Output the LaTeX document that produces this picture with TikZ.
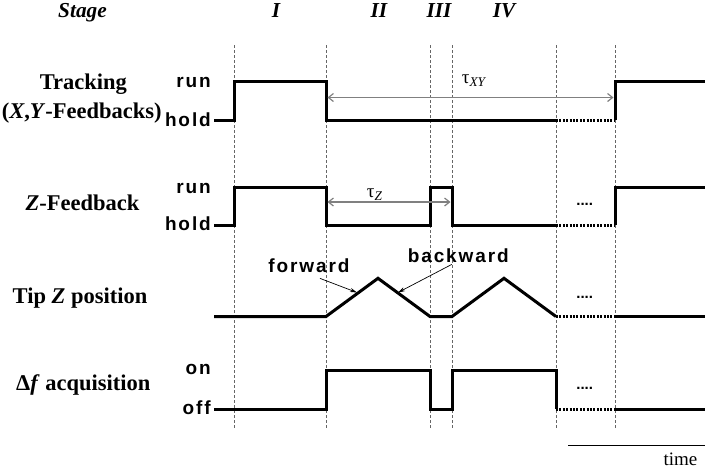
\documentclass[tikz,border=0pt]{standalone}
\usepackage{fontspec}
\setmainfont{Liberation Serif}
\newfontfamily\sigfont[LetterSpace=10]{Liberation Sans}
\newfontfamily\dotfont{Liberation Sans}
\usetikzlibrary{arrows.meta}

\tikzset{
    sig/.style={line width=3pt},
    gap/.style={line width=3pt, dash pattern=on 2pt off 1.4pt},
    grid/.style={black!60, line width=0.8pt, dash pattern=on 3pt off 2pt},
    tau/.style={gray, line width=1.2pt,
        {Straight Barb[length=5pt,width=8pt]}-{Straight Barb[length=5pt,width=8pt]}},
    note/.style={-{Stealth[length=7pt,width=4pt]}, line width=0.7pt},
    lab/.style={font=\bfseries\fontsize{22.5}{22.5}\selectfont, anchor=base, inner sep=0pt},
    lvl/.style={font=\sigfont\bfseries\fontsize{19}{19}\selectfont, anchor=base east, inner sep=0pt},
    stg/.style={font=\bfseries\itshape\fontsize{21.3}{21.3}\selectfont, anchor=base, inner sep=0pt},
    ann/.style={font=\sigfont\bfseries\fontsize{19}{19}\selectfont, anchor=base, inner sep=0pt},
    tlab/.style={font=\fontsize{19}{19}\selectfont, anchor=base west, inner sep=0pt},
    more/.style={font=\dotfont\bfseries\fontsize{15}{15}\selectfont, anchor=base, inner sep=0pt}
}

\begin{document}
\begin{tikzpicture}[x=1pt,y=-1pt]
\useasboundingbox (0,0) rectangle (705,472);

% Stage header
\node[stg] (stage) at (82.5,17) {Stage};
\node[stg] (s1) at (276,17) {I};
\node[stg] (s2) at (379,17) {II};
\node[stg] (s3) at (439,17) {III};
\node[stg] (s4) at (504,17) {IV};

% Stage borders
\foreach \x in {234,326,430,452,556,615}
    \draw[grid] (\x,45) -- (\x,428);

% Tracking
\node[lab] (trk) at (83.3,89) {Tracking};
\node[lab] (trkxy) at (81.7,118) {(\textit{X},\textit{Y}-Feedbacks)};
\node[lvl] (trkrun) at (211,87) {run};
\node[lvl] (trkhold) at (211,126.5) {hold};
\draw[sig] (214,120) -- (234,120) -- (234,81) -- (326,81) -- (326,120) -- (556,120);
\draw[gap] (556,120) -- (615,120);
\draw[sig] (615,120) -- (615,81) -- (705,81);
\coordinate (xya) at (327.5,97.5);
\coordinate (xyb) at (613.5,97.5);
\draw[tau] (xya) -- (xyb);
\node[tlab] (tauxy) at (461.7,83.3) {τ\textsubscript{\textit{XY}}};

% Z-Feedback
\node[lab] (zfb) at (82.5,210.5) {\textit{Z}-Feedback};
\node[lvl] (zrun) at (211,193) {run};
\node[lvl] (zhold) at (211,230.7) {hold};
\draw[sig] (214,225) -- (234,225) -- (234,187) -- (326,187) -- (326,225) -- (430,225)
    -- (430,187) -- (452,187) -- (452,225) -- (556,225);
\draw[gap] (556,225) -- (615,225);
\draw[sig] (615,225) -- (615,187) -- (705,187);
\coordinate (za) at (327.5,202);
\coordinate (zb) at (450.5,202);
\draw[tau] (za) -- (zb);
\node[tlab] (tauz) at (366.7,197.3) {τ\textsubscript{\textit{Z}}};
\node[more] (zmore) at (584.7,205.3) {....};

% Tip Z position
\node[lab] (tip) at (80,303.3) {Tip \textit{Z} position};
\draw[sig] (214,316.5) -- (326,316.5) -- (378,278.3) -- (430,316.5) -- (452,316.5)
    -- (504,278.3) -- (556,316.5);
\draw[gap] (556,316.5) -- (615,316.5);
\draw[sig] (615,316.5) -- (705,316.5);
\node[ann] (fw) at (309,272) {forward};
\node[ann] (bw) at (458.3,262.5) {backward};
\coordinate (fwtip) at (357,292.5);
\coordinate (bwtip) at (398,292.5);
\draw[note] ([xshift=11pt,yshift=-6pt]fw.south) -- (fwtip);
\draw[note] ([xshift=-6.5pt,yshift=-1.5pt]bw.south) -- (bwtip);
\node[more] (tipmore) at (584.7,298) {....};

% Delta f acquisition
\node[lab] (acq) at (83.3,390.7) {Δ\textit{f} acquisition};
\node[lvl] (acqon) at (211,374) {on};
\node[lvl] (acqoff) at (211,414.3) {off};
\draw[sig] (214,409) -- (326,409) -- (326,370) -- (430,370) -- (430,409) -- (452,409)
    -- (452,370) -- (556,370) -- (556,409);
\draw[gap] (556,409) -- (615,409);
\draw[sig] (615,409) -- (705,409);
\node[more] (acqmore) at (584.7,389.6) {....};

% Time axis
\draw[line width=1.5pt] (568,445.7) -- (705,445.7);
\node[font=\fontsize{19}{19}\selectfont, anchor=base, inner sep=0pt] (time) at (680.5,465) {time};

\end{tikzpicture}
\end{document}
